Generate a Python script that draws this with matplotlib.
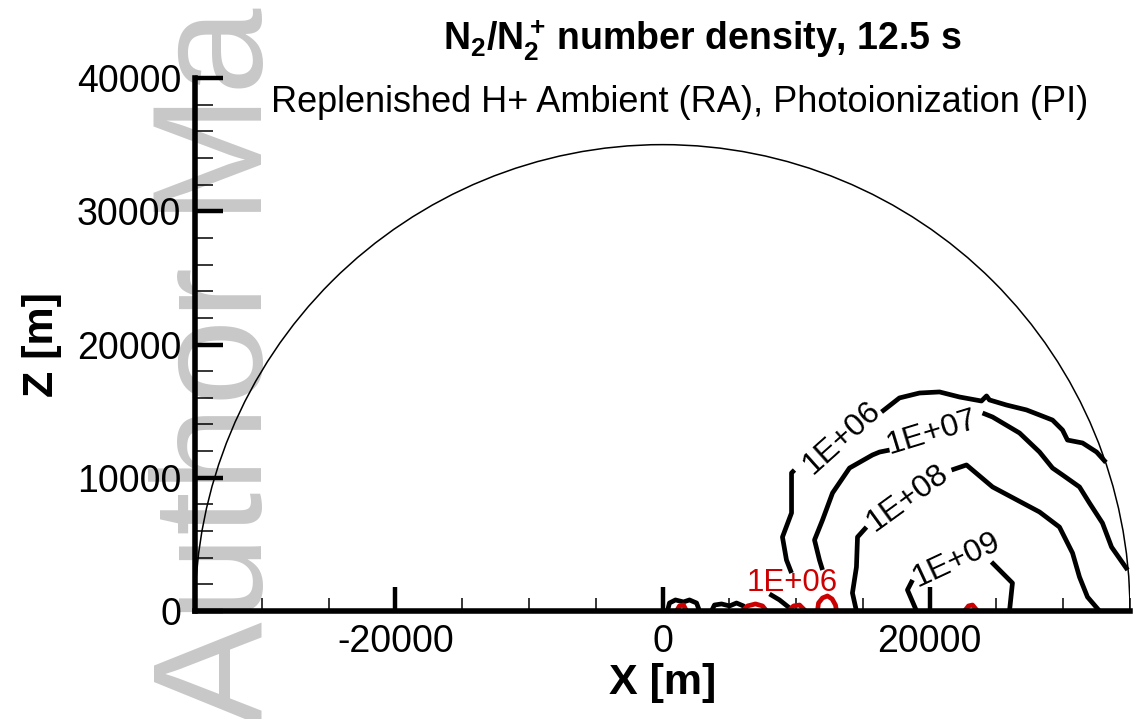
import matplotlib
matplotlib.use("Agg")
import matplotlib.pyplot as plt
from matplotlib.patches import Arc
from matplotlib.ticker import MultipleLocator

plt.rcParams["font.family"] = ["Liberation Sans", "DejaVu Sans"]
plt.rcParams["axes.unicode_minus"] = False

# domain: half circle of radius R (m)
R = 35000

# N2 contour lines, (x, z) in metres; split where the labels sit
c6_right_x = [33200, 32500, 31450, 30320, 29950, 29200, 28230, 27250, 25750, 24480, 24260, 23880, 22240, 20740, 19240, 17740, 16400]
c6_right_z = [11150, 11930, 12610, 12830, 13580, 14330, 14710, 15090, 15460, 15840, 16140, 15760, 16060, 16440, 16360, 15990, 14940]
c6_left_x = [9880, 9660, 9660, 8980, 9280, 9660]
c6_left_z = [10580, 10360, 7360, 5550, 3830, 2850]
c6_foot_x = [8010, 8760, 9510, 9730]
c6_foot_z = [1280, 830, 230, 0]

c7_right_x = [34820, 33620, 32940, 31970, 31220, 29950, 29200, 28230, 26730, 24710, 23960]
c7_right_z = [3080, 4800, 6600, 8100, 9310, 10210, 10730, 11930, 13360, 14560, 14860]
c7_left_x = [17000, 16250, 15720, 14000, 12730, 11980, 11380, 11750, 11980]
c7_left_z = [12080, 11930, 11710, 10730, 8860, 6830, 5330, 3830, 3080]

c8_right_x = [32720, 31820, 31220, 30700, 29720, 28230, 24710, 22760, 21640]
c8_right_z = [0, 1050, 2550, 4350, 6300, 7430, 9310, 10960, 10580]
c8_left_x = [15270, 14600, 14520, 14220, 14520]
c8_left_z = [6300, 5550, 3300, 1350, 0]

c9_right_x = [25980, 26200, 24630]
c9_right_z = [0, 2100, 3680]
c9_left_x = [18720, 18340, 19020]
c9_left_z = [2330, 1580, 0]

# small closed N2 contours near the origin
b1_x = [370, 520, 970, 1570, 2020, 2550, 2770]
b1_z = [0, 600, 830, 680, 830, 600, 0]
b2_x = [3670, 3890, 4420, 5020, 5540, 6060, 6210]
b2_z = [0, 450, 530, 380, 600, 380, 0]

# N2+ 1E+06 contours (red)
r1_x = [1050, 1270, 1570, 1800]
r1_z = [0, 380, 450, 0]
r2_x = [5990, 6360, 6960, 7490, 7790]
r2_z = [0, 380, 530, 380, 0]
r3_x = [9430, 9810, 10260, 10710]
r3_z = [0, 380, 450, 0]
r4_x = [11600, 11680, 11980, 12350, 12700, 12950, 13030]
r4_z = [0, 600, 980, 1130, 900, 450, 0]
r5_x = [22610, 22910, 23210, 23580]
r5_z = [0, 380, 450, 0]

level_names = ["1E+06", "1E+07", "1E+08", "1E+09"]
label_x = [13400, 20200, 18350, 22000]
label_z = [12980, 13360, 8480, 3830]
label_rot = [42, 17, 36, 25]
red_label_x, red_label_z = 9730, 2100

fig = plt.figure(figsize=(11.36, 7.19), dpi=100)
ax = fig.add_axes([0.1717, 0.1502, 0.8230, 0.7413])
ax.set_zorder(1)
ax.patch.set_alpha(0)

# watermark behind everything
fig.text(0.2306, -0.008, "Author Manuscript", rotation=90, rotation_mode="anchor",
         ha="left", va="baseline", fontsize=112, color="#c8c8c8", zorder=0)

ax.add_patch(Arc((0, 0), 2 * R, 2 * R, theta1=0, theta2=180, color="black", lw=1.1))

black_segs = [(c6_right_x, c6_right_z), (c6_left_x, c6_left_z), (c6_foot_x, c6_foot_z),
              (c7_right_x, c7_right_z), (c7_left_x, c7_left_z),
              (c8_right_x, c8_right_z), (c8_left_x, c8_left_z),
              (c9_right_x, c9_right_z), (c9_left_x, c9_left_z),
              (b1_x, b1_z), (b2_x, b2_z)]
for xs, zs in black_segs:
    ax.plot(xs, zs, color="black", lw=3.4, solid_joinstyle="round", solid_capstyle="butt")

for xs, zs in [(r1_x, r1_z), (r2_x, r2_z), (r3_x, r3_z), (r4_x, r4_z), (r5_x, r5_z)]:
    ax.plot(xs, zs, color="#cc0000", lw=3.4, solid_joinstyle="round")

for name, x, z, rot in zip(level_names, label_x, label_z, label_rot):
    ax.text(x, z, name, rotation=rot, rotation_mode="anchor", ha="center", va="center",
            fontsize=23, color="black")
ax.text(red_label_x, red_label_z, "1E+06", ha="center", va="center", fontsize=22.5, color="#cc0000")

ax.set_xlim(-R, R)
ax.set_ylim(0, 40000)

for side in ["top", "right"]:
    ax.spines[side].set_visible(False)
for side in ["left", "bottom"]:
    ax.spines[side].set_linewidth(4)

ax.xaxis.set_major_locator(MultipleLocator(20000))
ax.xaxis.set_minor_locator(MultipleLocator(5000))
ax.yaxis.set_major_locator(MultipleLocator(10000))
ax.yaxis.set_minor_locator(MultipleLocator(2000))
ax.tick_params(axis="x", which="major", direction="in", length=17, width=3.2, labelsize=27, pad=9)
ax.tick_params(axis="x", which="minor", direction="in", length=9.5, width=1.1)
ax.tick_params(axis="y", which="major", direction="in", length=20, width=3.2, labelsize=27, pad=10)
ax.tick_params(axis="y", which="minor", direction="in", length=13, width=1.1)

ax.set_xlabel("X [m]", fontsize=31, fontweight="bold")
ax.xaxis.set_label_coords(0.5, -0.097)
ax.set_ylabel("Z [m]", fontsize=31, fontweight="bold")
ax.yaxis.set_label_coords(-0.142, 0.5)

fig.text(0.618, 0.944, r"$\mathregular{N_2/N_2^+\,}$number density, 12.5 s",
         fontsize=27, fontweight="bold", ha="center", va="center")
fig.text(0.598, 0.857, "Replenished H+ Ambient (RA), Photoionization (PI)",
         fontsize=26, ha="center", va="center")

fig.savefig("out.png", dpi=100)
